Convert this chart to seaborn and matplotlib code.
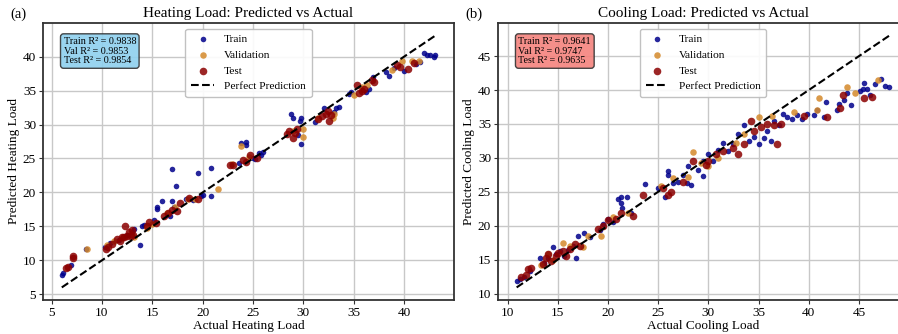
import numpy as np
import pandas as pd
import matplotlib
matplotlib.use("Agg")
import matplotlib.pyplot as plt
import seaborn as sns

# ==========================================
# DATA
# ==========================================
heat_range = [6.01, 43.1]
cool_range = [10.9, 48.03]

heat_train_actual = [6.0, 6.1, 6.9, 8.4, 10.3, 10.8, 11.3, 11.7, 12.5, 13.0, 13.2, 13.8,
                     14.0, 14.2, 15.2, 15.5, 15.5, 16.0, 16.8, 17.0, 17.0, 17.2, 17.4, 18.3,
                     19.0, 19.5, 19.8, 20.0, 20.8, 20.8, 23.6, 23.8, 24.3, 24.3, 25.0, 25.2,
                     25.6, 25.8, 26.0, 28.8, 29.0, 29.5, 29.7, 29.8, 29.8, 31.2, 32.0, 33.0,
                     33.2, 33.5, 34.5, 34.7, 36.2, 36.5, 36.9, 38.2, 38.5, 39.0, 40.0, 41.2,
                     41.6, 42.0, 42.3, 42.6, 43.0, 43.1]
heat_train_pred = [7.8, 8.1, 9.3, 11.7, 11.9, 12.6, 12.8, 13.0, 13.8, 14.1, 14.6, 12.3,
                   15.0, 15.2, 16.0, 17.5, 17.8, 18.7, 16.5, 18.8, 23.4, 17.9, 21.0, 19.0,
                   18.9, 22.8, 19.5, 19.6, 19.4, 23.6, 24.3, 27.3, 27.4, 27.0, 25.1, 24.9,
                   25.8, 25.5, 26.0, 31.5, 30.9, 28.5, 30.5, 31.0, 27.1, 30.4, 32.5, 31.8,
                   32.5, 32.6, 34.5, 34.8, 34.8, 35.2, 37.0, 37.8, 37.2, 38.3, 37.9, 38.9,
                   39.2, 40.5, 40.2, 40.3, 40.0, 40.2]

heat_val_actual = [8.5, 10.5, 11.2, 12.0, 13.2, 14.5, 15.0, 16.5, 17.3, 18.5, 19.2, 21.5,
                   22.9, 23.8, 24.6, 29.0, 30.0, 30.0, 31.5, 32.9, 33.0, 35.0, 35.8, 36.3,
                   38.8, 39.8, 40.8, 41.5]
heat_val_pred = [11.7, 12.3, 12.9, 13.3, 13.5, 14.7, 15.3, 16.9, 17.8, 19.0, 19.1, 20.5,
                 24.2, 26.9, 25.2, 29.0, 28.2, 29.3, 31.0, 30.9, 31.5, 34.3, 35.5, 35.8,
                 38.0, 39.3, 39.4, 39.3]

heat_test_actual = [6.4, 6.6, 7.1, 7.1, 10.4, 10.6, 11.0, 11.5, 11.8, 12.0, 12.2, 12.3,
                    12.5, 12.7, 12.9, 13.1, 13.0, 14.5, 14.7, 15.4, 16.2, 16.6, 17.0, 17.5,
                    17.7, 18.6, 19.5, 22.7, 23.0, 24.0, 24.3, 24.7, 25.4, 28.4, 28.6, 29.0,
                    29.2, 29.4, 31.5, 31.8, 32.2, 32.4, 32.5, 32.7, 35.3, 35.5, 35.8, 36.0,
                    36.8, 37.0, 39.3, 39.6, 40.4, 41.0]
heat_test_pred = [8.8, 9.0, 10.3, 10.6, 11.6, 12.0, 12.4, 13.2, 12.9, 13.5, 13.4, 15.0,
                  13.6, 14.2, 13.6, 13.8, 14.4, 15.0, 15.6, 15.5, 16.5, 17.0, 17.4, 17.3,
                  18.4, 19.2, 19.0, 24.1, 24.0, 24.8, 24.5, 25.5, 25.0, 28.6, 29.1, 28.0,
                  28.8, 29.4, 30.8, 31.2, 31.6, 32.0, 30.5, 31.4, 35.8, 34.7, 35.0, 35.3,
                  36.6, 36.2, 38.7, 38.5, 38.2, 39.1]

cool_train_actual = [10.9, 11.2, 11.6, 12.2, 13.2, 13.6, 14.0, 14.5, 14.8, 15.2, 15.6, 16.0,
                     16.5, 16.8, 17.0, 17.6, 18.2, 19.2, 19.5, 20.0, 20.5, 21.0, 21.3, 21.3,
                     21.4, 21.9, 22.3, 23.7, 25.0, 25.7, 26.0, 26.0, 26.5, 27.0, 27.5, 27.9,
                     28.0, 28.3, 29.0, 29.5, 29.5, 30.0, 30.5, 31.0, 31.5, 32.0, 32.5, 33.0,
                     33.5, 34.0, 34.5, 35.0, 35.5, 35.8, 36.2, 36.5, 37.0, 37.4, 37.8, 38.3,
                     38.8, 39.3, 39.8, 40.5, 40.8, 41.5, 41.7, 42.8, 43.0, 43.5, 43.8, 44.2,
                     45.1, 45.4, 45.5, 45.8, 46.1, 46.6, 47.2, 47.6, 48.0]
cool_train_pred = [11.9, 12.2, 12.4, 13.3, 15.2, 14.5, 15.3, 16.8, 15.8, 16.2, 15.6, 16.4,
                   17.0, 15.3, 18.5, 18.9, 18.3, 19.3, 20.2, 21.0, 20.5, 24.0, 24.3, 23.3,
                   22.6, 24.3, 21.8, 26.2, 25.5, 24.3, 27.5, 28.0, 26.3, 26.5, 27.5, 26.3,
                   28.8, 26.0, 28.2, 27.4, 29.6, 30.5, 29.5, 31.2, 32.2, 31.0, 32.0, 33.5,
                   34.9, 32.5, 33.1, 32.0, 33.0, 34.0, 32.5, 35.5, 34.8, 36.5, 36.0, 35.8,
                   36.3, 35.7, 36.5, 36.3, 37.1, 36.0, 38.2, 37.1, 38.0, 38.5, 39.5, 37.8,
                   39.8, 40.1, 41.0, 40.2, 39.3, 40.9, 41.7, 40.6, 40.4]

cool_val_actual = [13.3, 14.0, 14.5, 15.5, 16.2, 17.5, 18.0, 19.3, 20.5, 22.0, 25.3, 26.5,
                   28.0, 28.5, 29.3, 30.0, 31.0, 32.8, 33.5, 35.0, 36.3, 38.5, 40.8, 41.0,
                   43.8, 44.6, 46.9]
cool_val_pred = [14.2, 15.8, 15.0, 17.5, 17.0, 16.8, 18.5, 18.5, 21.3, 21.8, 25.8, 27.0,
                 27.2, 30.9, 29.3, 28.8, 30.0, 32.2, 33.5, 36.0, 36.2, 36.8, 37.1, 38.9,
                 40.5, 39.5, 41.5]

cool_test_actual = [11.3, 11.8, 12.0, 12.3, 13.5, 13.8, 14.0, 14.3, 14.8, 15.0, 15.5, 15.8,
                    16.2, 16.7, 17.2, 19.0, 19.5, 20.0, 20.8, 21.3, 22.5, 23.5, 25.5, 26.0,
                    26.3, 27.5, 28.5, 29.8, 30.0, 30.8, 31.5, 32.5, 33.0, 33.5, 34.2, 34.5,
                    35.2, 35.8, 36.5, 36.8, 37.2, 39.5, 41.8, 43.1, 43.4, 45.5, 46.3]
cool_test_pred = [12.5, 12.8, 13.6, 13.8, 14.3, 15.2, 15.8, 14.8, 15.5, 16.0, 16.2, 15.6,
                  16.6, 17.3, 17.0, 19.5, 20.0, 20.8, 21.0, 21.8, 21.4, 24.5, 25.5, 24.5,
                  25.0, 26.5, 29.5, 29.0, 29.5, 30.5, 31.0, 31.5, 30.5, 32.0, 35.4, 34.0,
                  34.5, 35.0, 34.8, 32.1, 35.0, 36.2, 36.1, 37.3, 39.2, 38.8, 39.0]

r2_heat = {"Train": 0.9838, "Val": 0.9853, "Test": 0.9854}
r2_cool = {"Train": 0.9641, "Val": 0.9747, "Test": 0.9635}

SPLIT_STYLE = {
    "Train": dict(color="#00008B", s=16, alpha=0.85),
    "Validation": dict(color="#D4892A", s=22, alpha=0.85),
    "Test": dict(color="#8B0000", s=30, alpha=0.85),
}


def build_frame(tr_a, tr_p, va_a, va_p, te_a, te_p):
    parts = []
    for name, a, p in [("Train", tr_a, tr_p), ("Validation", va_a, va_p), ("Test", te_a, te_p)]:
        parts.append(pd.DataFrame({"actual": a, "pred": p, "split": name}))
    return pd.concat(parts, ignore_index=True)


def plot_panel(ax, df, target, line_range, r2, box_color, tag):
    for split, style in SPLIT_STYLE.items():
        sub = df[df["split"] == split]
        sns.scatterplot(data=sub, x="actual", y="pred", ax=ax, label=split,
                        linewidth=0, **style)
    lo, hi = line_range
    ax.plot([lo, hi], [lo, hi], "k--", lw=1.5, label="Perfect Prediction")
    ax.set_title(f"{target}: Predicted vs Actual", fontsize=11, pad=4)
    ax.set_xlabel(f"Actual {target}", fontsize=9.5, labelpad=1)
    ax.set_ylabel(f"Predicted {target}", fontsize=9.5, labelpad=2)
    ax.grid(True, color="#c8c8c8", linewidth=1.0)
    ax.set_axisbelow(True)
    ax.tick_params(labelsize=9.5, length=3, pad=2, color="#333333")
    for sp in ax.spines.values():
        sp.set_color("#333333")
        sp.set_linewidth(1.3)
    txt = (f"Train R² = {r2['Train']:.4f}\nVal R² = {r2['Val']:.4f}\n"
           f"Test R² = {r2['Test']:.4f}")
    ax.text(0.05, 0.95, txt, transform=ax.transAxes, va="top", ha="left", fontsize=7.3,
            linespacing=1.1,
            bbox=dict(boxstyle="round,pad=0.3", facecolor=box_color, edgecolor="#333333",
                      alpha=0.9))
    ax.legend(loc="upper center", fontsize=8.2, framealpha=0.9, edgecolor="#bbbbbb",
              handletextpad=0.9, borderpad=0.5, labelspacing=0.5, handlelength=2.0)
    ax.text(-0.08, 1.03, tag, transform=ax.transAxes, fontsize=10.5, va="center")


plt.rcParams["font.family"] = ["Liberation Serif", "DejaVu Serif"]
plt.rcParams["mathtext.fontset"] = "stix"

fig = plt.figure(figsize=(8.98, 3.34), dpi=100)
ax1 = fig.add_axes([43 / 898, 34 / 334, 411 / 898, 277 / 334])
ax2 = fig.add_axes([498 / 898, 34 / 334, 410 / 898, 277 / 334])

heat_df = build_frame(heat_train_actual, heat_train_pred, heat_val_actual, heat_val_pred,
                      heat_test_actual, heat_test_pred)
cool_df = build_frame(cool_train_actual, cool_train_pred, cool_val_actual, cool_val_pred,
                      cool_test_actual, cool_test_pred)

plot_panel(ax1, heat_df, "Heating Load", heat_range, r2_heat, "#8ED0EE", "(a)")
plot_panel(ax2, cool_df, "Cooling Load", cool_range, r2_cool, "#F4837D", "(b)")

fig.savefig("out.png", dpi=100)
